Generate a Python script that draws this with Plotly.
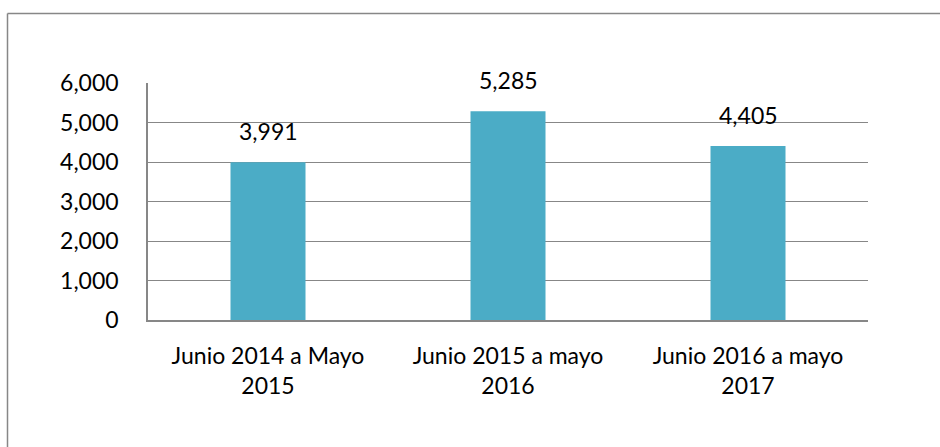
import plotly.graph_objects as go

categories = ["Junio 2014 a Mayo<br>2015", "Junio 2015 a mayo<br>2016", "Junio 2016 a mayo<br>2017"]
values = [3991, 5285, 4405]
tick_vals = [0, 1000, 2000, 3000, 4000, 5000, 6000]

FONT = "Lato"
GRAY = "#878787"

fig = go.Figure(go.Bar(
    x=categories, y=values,
    marker=dict(color="#4BACC6", line=dict(width=0)),
    hoverinfo="skip",
))

for c, v in zip(categories, values):
    fig.add_annotation(x=c, y=v, text=f"{v:,}", showarrow=False,
                       yanchor="bottom", yshift=15,
                       font=dict(family=FONT, size=23, color="#000"))

L, R, T, B = 148, 868, 83, 320
W, H = 940, 447

def px_x(px):
    return (px - L) / (R - L)

def px_y(py):
    return (B - py) / (B - T)

# outer chart border (left and top edges visible)
fig.add_shape(type="line", xref="paper", yref="paper",
              x0=px_x(7.5), x1=px_x(7.5), y0=px_y(13.5), y1=px_y(470),
              line=dict(color=GRAY, width=1.5))
fig.add_shape(type="line", xref="paper", yref="paper",
              x0=px_x(7.5), x1=px_x(960), y0=px_y(13.5), y1=px_y(13.5),
              line=dict(color=GRAY, width=1.5))

fig.update_layout(
    width=W, height=H,
    margin=dict(l=L, r=W - R, t=T, b=H - B, pad=0),
    paper_bgcolor="white", plot_bgcolor="white",
    bargap=0.6875,
    showlegend=False,
    font=dict(family=FONT, size=23, color="#000"),
    xaxis=dict(showgrid=False, showline=True, linecolor=GRAY, linewidth=1.5,
               ticks="", ticklabelstandoff=15, tickfont=dict(family=FONT, size=23, color="#000")),
    yaxis=dict(range=[0, 6000], tickvals=tick_vals, tickformat=",d",
               showgrid=True, gridcolor=GRAY, gridwidth=1.2,
               showline=True, linecolor=GRAY, linewidth=1.5, zeroline=False,
               ticks="", ticklabelstandoff=23,
               tickfont=dict(family=FONT, size=23, color="#000")),
)

fig.write_html("out.html", config={"displayModeBar": False},
               post_script="document.body.style.margin='0';")
